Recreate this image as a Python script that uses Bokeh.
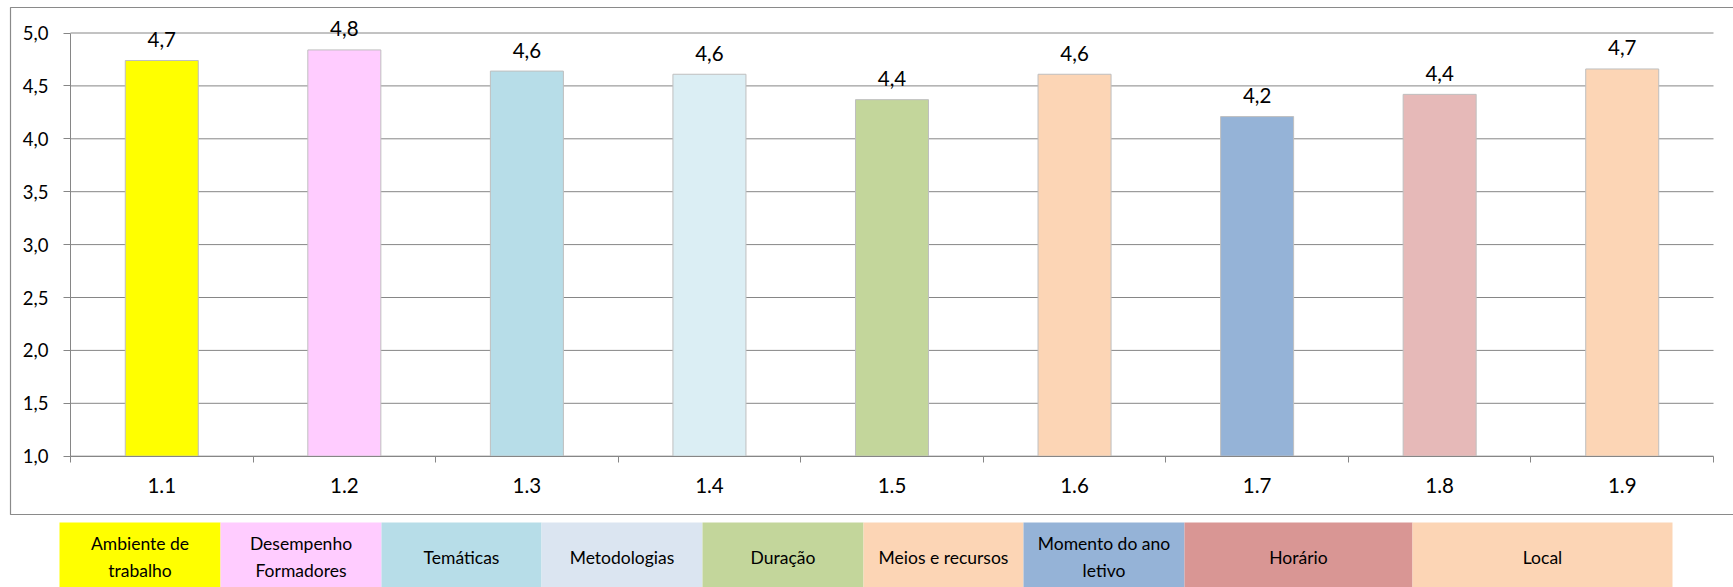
from bokeh.plotting import figure
from bokeh.models import (Range1d, FixedTicker, CustomJSTickFormatter, ColumnDataSource)
from bokeh.core.properties import value
from bokeh.embed import file_html
from bokeh.resources import INLINE

# ---------------- data ----------------
categories = ["1.1", "1.2", "1.3", "1.4", "1.5", "1.6", "1.7", "1.8", "1.9"]
values = [4.74, 4.84, 4.64, 4.61, 4.37, 4.61, 4.21, 4.42, 4.66]
value_labels = ["4,7", "4,8", "4,6", "4,6", "4,4", "4,6", "4,2", "4,4", "4,7"]
y_ticks = [1.0, 1.5, 2.0, 2.5, 3.0, 3.5, 4.0, 4.5, 5.0]
y_tick_labels = ["1,0", "1,5", "2,0", "2,5", "3,0", "3,5", "4,0", "4,5", "5,0"]
legend_labels = ["Ambiente de\ntrabalho", "Desempenho\nFormadores", "Temáticas",
                 "Metodologias", "Duração", "Meios e recursos",
                 "Momento do ano\nletivo", "Horário", "Local"]

# ---------------- styles / layout ----------------
bar_colors = ["#FFFF00", "#FFCCFF", "#B7DDE8", "#DBEEF4", "#C3D69B",
              "#FCD5B5", "#95B3D7", "#E6B9B8", "#FCD5B5"]
legend_colors = ["#FFFF00", "#FFCCFF", "#B7DDE8", "#DBE5F1", "#C3D69B",
                 "#FCD5B5", "#95B3D7", "#D99694", "#FCD5B5"]
legend_edges = [59, 220, 381, 541, 702, 863, 1023, 1184, 1412, 1672]  # page px
LEG_TOP, LEG_TEXT_Y = 522, 556.5
BOX = dict(left=10, right=1750, top=7, bottom=514)
FONT = "Lato"
GRID = "#868686"
W, H = 1733, 587
PLOT_L, PLOT_R = 70, 1713      # page px of the plot area
Y_HI_PX, Y_LO_PX = 32.5, 455.7  # page px of 5.0 and 1.0
Y_LO, Y_HI = y_ticks[0], y_ticks[-1]

n = len(categories)
xs = [i + 0.5 for i in range(n)]
ppx = (PLOT_R - PLOT_L) / n
ppy = (Y_LO_PX - Y_HI_PX) / (Y_HI - Y_LO)
x_range = Range1d(-PLOT_L / ppx, n + (W - PLOT_R) / ppx)
y_range = Range1d(Y_LO - (H - Y_LO_PX) / ppy, Y_HI + Y_HI_PX / ppy)

p = figure(width=W, height=H, output_backend="svg", toolbar_location=None,
           x_range=x_range, y_range=y_range, min_border=0,
           outline_line_color=None)
p.title = None
p.extra_x_ranges = {"px": Range1d(0, W)}
p.extra_y_ranges = {"px": Range1d(H, 0)}
p.xgrid.visible = False
p.ygrid.visible = False

# outer chart frame
p.quad(left=BOX["left"], right=BOX["right"], top=BOX["top"], bottom=BOX["bottom"],
       fill_color=None, line_color="#8A8A8A", line_width=1.2,
       x_range_name="px", y_range_name="px")

# horizontal gridlines across the plot area
p.segment(x0=0, x1=n, y0=y_ticks, y1=y_ticks, line_color=GRID, line_width=1)

# bars + value labels
src = ColumnDataSource(dict(x=xs, top=values, color=bar_colors, label=value_labels))
p.vbar(x="x", top="top", bottom=Y_LO, width=0.4, fill_color="color",
       line_color="#BFBFBF", line_width=1, source=src)
p.text(x="x", y="top", text="label", source=src, text_align="center",
       text_baseline="alphabetic", y_offset=-21, text_font=value(FONT),
       text_font_size="20.5px", text_color="#000000")

# y axis
yt = FixedTicker(ticks=y_ticks, minor_ticks=[])
p.yaxis.ticker = yt
p.yaxis.fixed_location = 0
p.yaxis.bounds = (Y_LO, Y_HI)
p.yaxis.formatter = CustomJSTickFormatter(
    args=dict(yvals=y_ticks, ylabels=y_tick_labels),
    code="const i = yvals.findIndex(t => Math.abs(t - tick) < 1e-9); return i >= 0 ? ylabels[i] : '';")
p.yaxis.axis_line_color = GRID
p.yaxis.major_tick_line_color = GRID
p.yaxis.major_tick_out = 7
p.yaxis.major_tick_in = 0
p.yaxis.minor_tick_line_color = None
p.yaxis.major_label_standoff = 15
p.yaxis.major_label_text_font = FONT
p.yaxis.major_label_text_font_size = "18.5px"
p.yaxis.major_label_text_color = "#000000"

# x axis: labels at centres, tick marks at category boundaries
xt = FixedTicker(ticks=xs, minor_ticks=list(range(n + 1)))
p.xaxis.ticker = xt
p.xaxis.fixed_location = Y_LO
p.xaxis.bounds = (0, n)
p.xaxis.formatter = CustomJSTickFormatter(
    args=dict(cats=categories),
    code="const i = Math.round(tick - 0.5); return (i >= 0 && i < cats.length) ? cats[i] : '';")
p.xaxis.axis_line_color = GRID
p.xaxis.major_tick_line_color = None
p.xaxis.major_tick_out = 0
p.xaxis.major_tick_in = 0
p.xaxis.minor_tick_line_color = GRID
p.xaxis.minor_tick_out = 6
p.xaxis.minor_tick_in = 0
p.xaxis.major_label_standoff = 16
p.xaxis.major_label_text_font = FONT
p.xaxis.major_label_text_font_size = "20.5px"
p.xaxis.major_label_text_color = "#000000"

# legend table under the chart
lefts = legend_edges[:-1]
rights = legend_edges[1:]
cx = [(a + b) / 2 for a, b in zip(lefts, rights)]
lsrc = ColumnDataSource(dict(left=lefts, right=rights, color=legend_colors,
                             cx=cx, label=legend_labels))
p.quad(left="left", right="right", top=LEG_TOP, bottom=H + 20, fill_color="color",
       line_color=None, source=lsrc, x_range_name="px", y_range_name="px")
p.text(x="cx", y=LEG_TEXT_Y, text="label", source=lsrc, text_align="center",
       text_baseline="middle", text_font=value(FONT), text_font_size="17.5px",
       text_color="#000000", text_line_height=1.33,
       x_range_name="px", y_range_name="px")

open("out.html", "w").write(file_html(p, INLINE))
